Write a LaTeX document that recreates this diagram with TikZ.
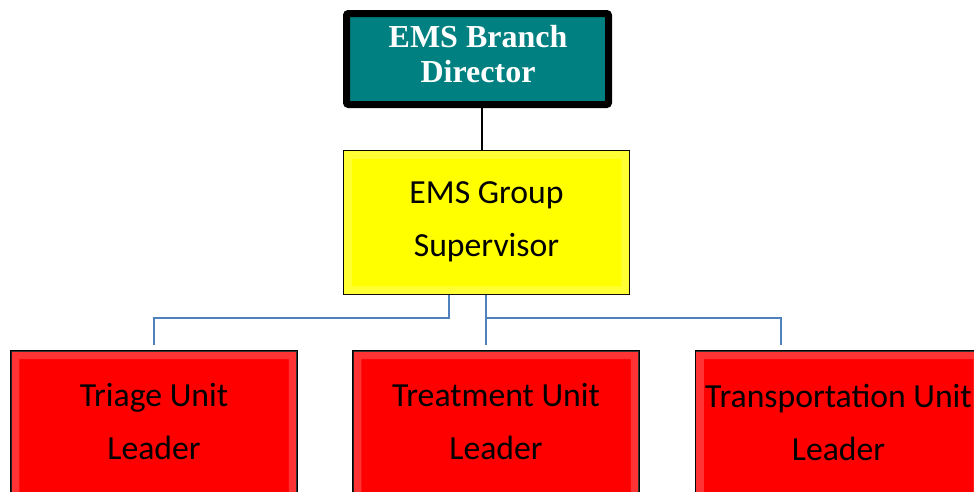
\documentclass[tikz,border=0pt]{standalone}
\usepackage{fontspec}
\setmainfont{Carlito}
\newfontfamily\serifb{Liberation Serif}
\usetikzlibrary{calc}
\definecolor{tealbox}{RGB}{0,128,128}
\definecolor{yellowbox}{RGB}{255,255,0}
\definecolor{redbox}{RGB}{255,0,0}
\definecolor{linkblue}{RGB}{79,129,189}
\tikzset{
  dirbox/.style={rectangle, draw=black, line width=7pt, fill=tealbox, rounded corners=2pt,
    minimum width=262pt, minimum height=91pt, inner sep=0pt},
  supbox/.style={rectangle, draw=black, line width=1.5pt, fill=yellowbox,
    minimum width=286pt, minimum height=144pt, inner sep=0pt},
  unitbox/.style={rectangle, draw=black, line width=1.5pt, fill=redbox,
    minimum width=286pt, minimum height=160pt, inner sep=0pt},
  dirtext/.style={text=white, align=center, inner sep=0pt,
    font=\serifb\bfseries\fontsize{32}{35}\selectfont},
  boxtext/.style={text=black, align=center, inner sep=0pt,
    font=\fontsize{33.7}{53}\selectfont},
  link/.style={draw=linkblue, line width=2.6pt},
  toplink/.style={draw=black, line width=2.5pt},
}
\newcommand{\bevel}[1]{%
  \fill[white, opacity=0.2, even odd rule]
    ($(#1.north west)+(1,1)$) rectangle ($(#1.south east)+(-1,-1)$)
    ($(#1.north west)+(9,9)$) rectangle ($(#1.south east)+(-9,-9)$);
}
\begin{document}
\begin{tikzpicture}[x=1pt,y=-1pt]
\useasboundingbox (0,0) rectangle (974,491);
\clip (0,0) rectangle (974,491);

% connector coordinates
\coordinate (jdir) at (482,0);
\coordinate (jl) at (449,318);
\coordinate (jm) at (486,318);

% boxes
\node[dirbox] (dir) at (477.5,59) {};
\node[supbox] (sup) at (486.5,222.5) {};
\node[unitbox] (tri) at (154,430.75) {};
\node[unitbox] (tre) at (496,430.75) {};
\node[unitbox] (tra) at (838.5,430.75) {};

\bevel{sup}
\bevel{tri}
\bevel{tre}
\bevel{tra}

% connectors
\draw[toplink] (dir.south -| jdir) -- (sup.north -| jdir);
\draw[link] (sup.south -| jl) -- (jl) -- (jl -| tri.north) -- ($(tri.north)+(0,-5)$);
\draw[link] (sup.south -| jm) -- ($(tre.north -| jm)+(0,-5)$);
\draw[link] (jm) -- (jm -| 781,0) -- ($(tra.north -| 781,0)+(0,-5)$);

% texts
\node[dirtext] (dirt) at (478,54) {EMS Branch\\Director};
\node[boxtext] (supt) at (486.5,222) {EMS Group\\Supervisor};
\node[boxtext] (trit) at (154,422) {Triage Unit\\Leader};
\node[boxtext] (tret) at (496,422) {Treatment Unit\\Leader};
\node[boxtext] (trat) at (838.5,422) {Transportation Unit\\Leader};
\end{tikzpicture}
\end{document}
